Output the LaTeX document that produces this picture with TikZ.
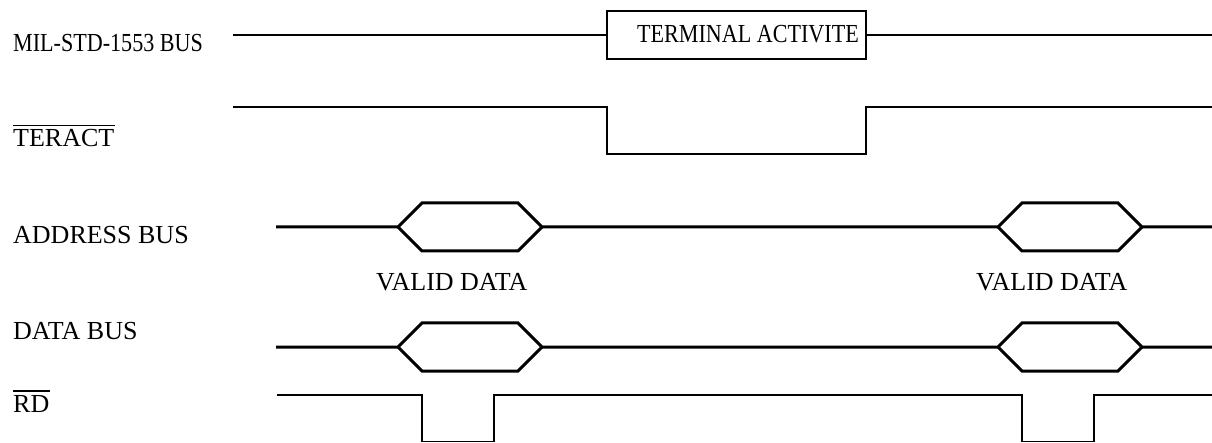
\documentclass[tikz,border=0pt]{standalone}
\usepackage{fontspec}
\setmainfont{Liberation Serif}
\newfontfamily\narrowfont[FakeStretch=0.85]{Liberation Serif}
\begin{document}
\begin{tikzpicture}[x=1pt,y=-1pt,
  lbl/.style={anchor=base west,inner sep=0pt,font=\fontsize{26}{30}\selectfont},
  nlbl/.style={anchor=base west,inner sep=0pt,font=\fontsize{26}{30}\narrowfont},
  thin/.style={line width=1.8pt,line join=miter},
  thick/.style={line width=3pt,line join=miter},
  ovl/.style={line width=1.6pt}]
\useasboundingbox (0,0) rectangle (1212,443);
% labels
\node[nlbl] (l1) at (13,52) {MIL-STD-1553 BUS};
\node[lbl] (l2) at (13,147) {TERACT};
\node[lbl] (l3) at (13,244) {ADDRESS BUS};
\node[lbl] (l4) at (13,339) {DATA BUS};
\node[lbl] (l5) at (13,412) {RD};
\draw[ovl] ([yshift=4pt]l2.north west) -- ([yshift=4pt]l2.north east);
\draw[ovl] ([yshift=4pt]l5.north west) -- ([yshift=4pt]l5.north east);
% MIL-STD-1553 bus
\node[draw,line width=2pt,minimum width=259pt,minimum height=48pt,inner sep=0pt] (box) at (736.5,35) {};
\node[nlbl] (bt) at (637,42.5) {TERMINAL ACTIVITE};
\draw[thin] (233,35) -- (box.west);
\draw[thin] (box.east) -- (1212,35);
% TERACT
\draw[thin] (233,107) -- (607,107) -- (607,154) -- (866,154) -- (866,107) -- (1212,107);
% ADDRESS BUS
\draw[thick] (276,227) -- (398,227) -- (422,203) -- (518,203) -- (542,227) -- (998,227)
  -- (1022,203) -- (1118,203) -- (1142,227) -- (1212,227);
\draw[thick] (398,227) -- (422,251) -- (518,251) -- (542,227);
\draw[thick] (998,227) -- (1022,251) -- (1118,251) -- (1142,227);
\node[lbl] (v1) at (376,291) {VALID DATA};
\node[lbl] (v2) at (976,291) {VALID DATA};
% DATA BUS
\draw[thick] (276,347) -- (398,347) -- (422,323) -- (518,323) -- (542,347) -- (998,347)
  -- (1022,323) -- (1118,323) -- (1142,347) -- (1212,347);
\draw[thick] (398,347) -- (422,371) -- (518,371) -- (542,347);
\draw[thick] (998,347) -- (1022,371) -- (1118,371) -- (1142,347);
% RD
\draw[thin] (277,395) -- (422,395) -- (422,441.5) -- (494,441.5) -- (494,395) -- (1022,395)
  -- (1022,441.5) -- (1094,441.5) -- (1094,395) -- (1212,395);
\end{tikzpicture}
\end{document}
